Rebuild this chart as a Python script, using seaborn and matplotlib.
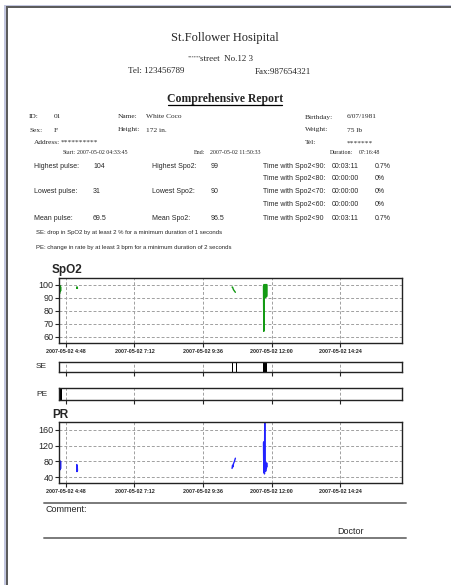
import matplotlib
matplotlib.use("Agg")
import matplotlib.pyplot as plt
import matplotlib.dates as mdates
from matplotlib.lines import Line2D
from matplotlib.patches import Rectangle
import pandas as pd
import seaborn as sns

# ---- data ----
DATE = "2007-05-02"
START = "04:33:45"

xtick_times = ["04:48", "07:12", "09:36", "12:00", "14:24"]
xtick_labels = ["2007-05-02 4:48", "2007-05-02 7:12", "2007-05-02 9:36",
                "2007-05-02 12:00", "2007-05-02 14:24"]

spo2_seg = [1] * 8 + [2] * 4 + [3] * 6 + [4] * 12
spo2_time = ["04:34:00", "04:34:30", "04:35:00", "04:35:30", "04:36:00", "04:36:30", "04:37:00", "04:37:30",
             "05:11:00", "05:11:30", "05:12:00", "05:12:30",
             "10:37:00", "10:38:00", "10:39:00", "10:40:00", "10:42:00", "10:44:00",
             "11:43:00", "11:43:40", "11:44:20", "11:45:00", "11:45:40", "11:46:20",
             "11:47:00", "11:47:40", "11:48:20", "11:49:00", "11:49:40", "11:50:20"]
spo2_value = [94, 99, 93, 98, 96, 99, 95, 98,
              98, 97, 98, 97,
              98, 98, 97, 96, 95, 94,
              99, 64, 100, 90, 99, 91, 100, 90, 99, 92, 100, 91]

pr_seg = spo2_seg
pr_time = spo2_time
pr_value = [80, 60, 82, 58, 78, 64, 80, 62,
            72, 54, 70, 56,
            62, 70, 66, 74, 80, 88,
            128, 52, 130, 48, 186, 60, 78, 55, 74, 62, 76, 66]

se_start = ["10:37:30", "10:44:30", "11:42:35"]
se_end = ["10:40:00", "10:47:00", "11:50:33"]
pe_start = ["04:34:20"]
pe_end = ["04:40:30"]

spo2_yticks = [60, 70, 80, 90, 100]
pr_yticks = [40, 80, 120, 160]

SPO2_COLOR = "#139a13"
PR_COLOR = "#2323ff"

sns.set_style("ticks")
plt.rcParams['font.family'] = ['Liberation Sans', 'DejaVu Sans']
SERIF = ['Liberation Serif', 'DejaVu Serif']

W, H = 451, 585
fig = plt.figure(figsize=(W / 100, H / 100), dpi=100)
fig.patch.set_facecolor("white")


def ts(t):
    return pd.Timestamp(f"{DATE} {t}")


def num(t):
    return mdates.date2num(ts(t))


def txt(x, y, s, **kw):
    kw.setdefault("va", "center")
    fig.text(x / W, 1 - y / H, s, **kw)


def hline(x0, x1, y, **kw):
    fig.add_artist(Line2D([x0 / W, x1 / W], [1 - y / H, 1 - y / H], transform=fig.transFigure, **kw))


def add_ax(left, right, top, bottom):
    return fig.add_axes([left / W, 1 - bottom / H, (right - left) / W, (bottom - top) / H])


# page border
fig.add_artist(Rectangle((4 / W, 0), 2 / W, 1 - 5 / H, transform=fig.transFigure, color="#c3c7df", lw=0))
fig.add_artist(Rectangle((4 / W, 1 - 6 / H), 1, 1.5 / H, transform=fig.transFigure, color="#c3c7df", lw=0))
fig.add_artist(Rectangle((6 / W, 0), 1.8 / W, 1 - 6 / H, transform=fig.transFigure, color="#5c5c5c", lw=0))
fig.add_artist(Rectangle((6 / W, 1 - 7.8 / H), 1, 1.8 / H, transform=fig.transFigure, color="#5c5c5c", lw=0))

# header
txt(225, 38, "St.Follower Hosipital", ha="center", family=SERIF, fontsize=9)
txt(188, 57, "******", ha="left", family=SERIF, fontsize=3.2)
txt(200, 59, "street  No.12 3", ha="left", family=SERIF, fontsize=6.5)
txt(128, 71, "Tel: 123456789", ha="left", family=SERIF, fontsize=6.5)
txt(255, 72, "Fax:987654321", ha="left", family=SERIF, fontsize=6.5)
txt(225, 99, "Comprehensive Report", ha="center", family=SERIF, fontsize=8.5, fontweight="bold")
hline(168, 282, 104.5, color="black", lw=0.9)

# patient info
info = [
    (29, 117, "ID:"), (54, 117, "01"), (118, 117, "Name:"), (146, 117, "White Coco"),
    (305, 117, "Birthday:"), (347, 117, "6/07/1981"),
    (29, 130, "Sex:"), (54, 130, "F"), (118, 130, "Height:"), (146, 130, "172 in."),
    (305, 130, "Weight:"), (347, 130, "75 lb"),
    (34, 142, "Address:"), (61, 142, "**********"), (305, 143, "Tel:"), (347, 143, "*******"),
]
for x, y, s in info:
    txt(x, y, s, family=SERIF, fontsize=5.3)

times = [(63, "Start:"), (77, "2007-05-02 04:33:45"), (194, "End:"), (210, "2007-05-02 11:50:33"),
         (330, "Duration:"), (359, "07:16:48")]
for x, s in times:
    txt(x, 153, s, family=SERIF, fontsize=4.3)

stats = [
    (166, [(34, "Highest pulse:"), (93, "104"), (152, "Highest Spo2:"), (211, "99"),
           (263, "Time with Spo2<90:"), (332, "00:03:11"), (375, "0.7%")]),
    (179, [(263, "Time with Spo2<80:"), (332, "00:00:00"), (375, "0%")]),
    (192, [(34, "Lowest pulse:"), (93, "31"), (152, "Lowest Spo2:"), (211, "90"),
           (263, "Time with Spo2<70:"), (332, "00:00:00"), (375, "0%")]),
    (205, [(263, "Time with Spo2<60:"), (332, "00:00:00"), (375, "0%")]),
    (218, [(34, "Mean pulse:"), (93, "69.5"), (152, "Mean Spo2:"), (211, "96.5"),
           (263, "Time with Spo2<90"), (332, "00:03:11"), (375, "0.7%")]),
]
for y, items in stats:
    for x, s in items:
        txt(x, y, s, fontsize=5)

txt(36, 233, "SE: drop in SpO2 by at least 2 % for a minimum duration of 1 seconds", fontsize=4.3)
txt(36, 248, "PE: change in rate by at least 3 bpm for a minimum duration of 2 seconds", fontsize=4.3)

# chart helpers
x0, x1 = ts(START), ts(START) + pd.Timedelta(hours=12)
xticks = [num(t) for t in xtick_times]
GRID = dict(color="#a0a0a0", lw=0.7, ls=(0, (3, 2)))


def frame(ax, show_labels):
    ax.set_xlim(mdates.date2num(x0), mdates.date2num(x1))
    ax.set_xticks(xticks)
    if show_labels:
        ax.set_xticklabels(xtick_labels, fontsize=3.9, fontweight="bold")
    else:
        ax.set_xticklabels([])
        ax.tick_params(axis="x", length=0)
    for sp in ax.spines.values():
        sp.set_visible(True)
        sp.set_color("#222222")
        sp.set_linewidth(1.0)
    ax.tick_params(axis="y", labelsize=6.5)
    ax.tick_params(axis="both", direction="out", length=3, width=0.8, pad=1)
    ax.set_xlabel("")
    ax.set_ylabel("")
    for xv in xticks:
        ax.axvline(xv, zorder=0, **GRID)


def series_df(times_, values, segs):
    return pd.DataFrame({"time": [ts(t) for t in times_], "value": values, "seg": segs})


# SpO2
ax1 = add_ax(59, 402, 278, 343)
sns.lineplot(data=series_df(spo2_time, spo2_value, spo2_seg), x="time", y="value", units="seg",
             estimator=None, sort=False, color=SPO2_COLOR, lw=1, ax=ax1, legend=False)
ax1.set_ylim(55, 105)
ax1.set_yticks(spo2_yticks)
for yv in spo2_yticks:
    ax1.axhline(yv, zorder=0, **GRID)
frame(ax1, True)
txt(52, 270, "SpO2", fontsize=8.5, fontweight="bold")

# SE / PE event bars
ax_se = add_ax(59, 402, 362, 372)
for a, b in zip(se_start, se_end):
    ax_se.axvspan(num(a), num(b), color="black", lw=0)
ax_se.set_yticks([])
frame(ax_se, False)
txt(36, 367, "SE", fontsize=6)

ax_pe = add_ax(59, 402, 388, 400)
for a, b in zip(pe_start, pe_end):
    ax_pe.axvspan(num(a), num(b), color="black", lw=0)
ax_pe.set_yticks([])
frame(ax_pe, False)
txt(36, 395, "PE", fontsize=6)

# PR
ax2 = add_ax(59, 402, 422, 483)
sns.lineplot(data=series_df(pr_time, pr_value, pr_seg), x="time", y="value", units="seg",
             estimator=None, sort=False, color=PR_COLOR, lw=1, ax=ax2, legend=False)
ax2.set_ylim(25, 180)
ax2.set_yticks(pr_yticks)
for yv in pr_yticks:
    ax2.axhline(yv, zorder=0, **GRID)
frame(ax2, True)
txt(52, 415, "PR", fontsize=8.5, fontweight="bold")

# footer
hline(44, 406, 502.5, color="#7a7a7a", lw=1.4)
txt(46, 510, "Comment:", fontsize=6.5)
txt(337, 531, "Doctor", fontsize=6.5)
hline(44, 406, 538, color="#7a7a7a", lw=1.4)

fig.savefig("out.png", dpi=100)
